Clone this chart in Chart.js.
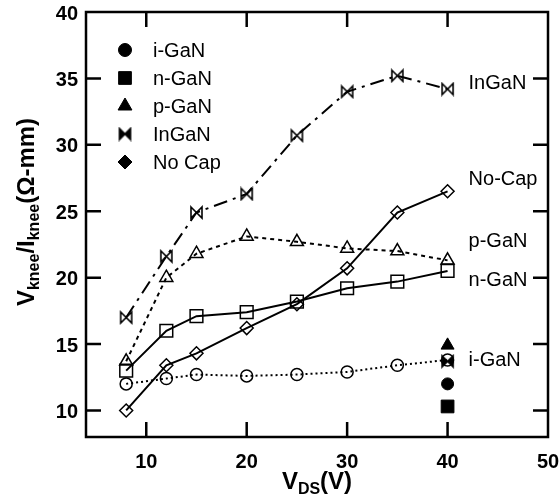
<!DOCTYPE html>
<html>
<head>
<meta charset="utf-8">
<title>Knee resistance vs drain bias</title>
<script src="https://cdn.jsdelivr.net/npm/chart.js@4.4.0/dist/chart.umd.min.js"></script>
<style>
  html, body { margin: 0; padding: 0; background: #fff; }
  #wrap { width: 560px; height: 502px; }
</style>
</head>
<body>
<div id="wrap"><canvas id="chart"></canvas></div>
<script>
// Drain bias sweep (V)
const vds = [8, 12, 15, 20, 25, 30, 35, 40];

// Vknee/Iknee (ohm-mm) per cap layer
const iGaN  = [12.0, 12.4, 12.7, 12.6, 12.7, 12.9, 13.4, 13.8];
const nGaN  = [13.0, 16.0, 17.1, 17.4, 18.2, 19.2, 19.7, 20.5];
const pGaN  = [13.7, 20.0, 21.8, 23.1, 22.7, 22.2, 22.0, 21.3];
const inGaN = [17.0, 21.6, 24.9, 26.3, 30.7, 34.0, 35.2, 34.2];
const noCap = [10.0, 13.4, 14.3, 16.2, 18.0, 20.7, 24.9, 26.5];

// lone filled points at 40 V: triangle, bowtie, circle, square
const loneVds = [40, 40, 40, 40];
const loneVals = [14.9, 13.7, 12.0, 10.3];

const legendNames = ['i-GaN', 'n-GaN', 'p-GaN', 'InGaN', 'No Cap'];
const endNames = ['InGaN', 'No-Cap', 'p-GaN', 'n-GaN', 'i-GaN'];
const endLevels = [34.6, 27.4, 22.75, 19.75, 13.75];

const xTicks = [10, 20, 30, 40, 50];
const yTicks = [10, 15, 20, 25, 30, 35, 40];

const FONT = '"Liberation Sans", Arial, sans-serif';

// hourglass-on-its-side marker
function bowtie(size, filled) {
  const c = document.createElement('canvas');
  c.width = c.height = size + 4;
  const g = c.getContext('2d');
  const m = 2, s = size;
  g.beginPath();
  g.moveTo(m, m);
  g.lineTo(m + s, m + s);
  g.lineTo(m + s, m);
  g.lineTo(m, m + s);
  g.closePath();
  g.lineJoin = 'miter';
  if (filled) {
    g.fillStyle = '#000';
    g.fill();
  }
  g.strokeStyle = '#000';
  g.lineWidth = 1.6;
  g.stroke();
  return c;
}
const bowOpen = bowtie(11, false);
const bowFull = bowtie(11, true);

function pts(ys) {
  return ys.map((y, i) => ({ x: vds[i], y: y }));
}

function openSeries(label, ys, style, radius, dash) {
  return {
    label: label,
    data: pts(ys),
    showLine: true,
    borderColor: '#000',
    borderWidth: 2,
    borderDash: dash,
    backgroundColor: 'rgba(0,0,0,0)',
    pointStyle: style,
    pointRadius: radius,
    pointBorderWidth: 1.5,
    pointBorderColor: '#000',
    pointBackgroundColor: 'rgba(0,0,0,0)',
    tension: 0
  };
}

function loneSeries(i, style, radius) {
  return {
    label: 'lone' + i,
    data: [{ x: loneVds[i], y: loneVals[i] }],
    showLine: false,
    pointStyle: style,
    pointRadius: radius,
    pointBorderWidth: 1,
    pointBorderColor: '#000',
    pointBackgroundColor: '#000'
  };
}

const datasets = [
  openSeries('i-GaN', iGaN, 'circle', 6, [2, 3]),
  openSeries('n-GaN', nGaN, 'rect', 9, []),
  openSeries('p-GaN', pGaN, 'triangle', 7.5, [4, 4]),
  openSeries('InGaN', inGaN, bowOpen, 7, [14, 6, 3, 6]),
  openSeries('No Cap', noCap, 'rectRot', 6.5, []),
  loneSeries(0, 'triangle', 7.5),
  loneSeries(1, bowFull, 7),
  loneSeries(2, 'circle', 6),
  loneSeries(3, 'rect', 9)
];

// text with subscript runs, centred on x
function subText(ctx, parts, x, y, big, small) {
  let w = 0;
  parts.forEach(p => {
    ctx.font = 'bold ' + (p[1] ? small : big) + 'px ' + FONT;
    w += ctx.measureText(p[0]).width;
  });
  let cx = x - w / 2;
  parts.forEach(p => {
    ctx.font = 'bold ' + (p[1] ? small : big) + 'px ' + FONT;
    ctx.fillText(p[0], cx, p[1] ? y + 5 : y);
    cx += ctx.measureText(p[0]).width;
  });
}

const framePlugin = {
  id: 'frame',
  afterDatasetsDraw(chart) {
    const { ctx, chartArea: a, scales } = chart;
    const tl = 15;
    ctx.save();
    ctx.strokeStyle = '#000';
    ctx.lineWidth = 2.5;
    ctx.strokeRect(a.left, a.top, a.right - a.left, a.bottom - a.top);
    ctx.beginPath();
    xTicks.forEach(v => {
      const px = scales.x.getPixelForValue(v);
      if (px >= a.right - 1) return;
      ctx.moveTo(px, a.bottom); ctx.lineTo(px, a.bottom - tl);
      ctx.moveTo(px, a.top); ctx.lineTo(px, a.top + tl);
    });
    yTicks.forEach(v => {
      const py = scales.y.getPixelForValue(v);
      if (py <= a.top + 1) return;
      ctx.moveTo(a.left, py); ctx.lineTo(a.left + tl, py);
      ctx.moveTo(a.right, py); ctx.lineTo(a.right - tl, py);
    });
    ctx.stroke();

    // tick numbers
    ctx.fillStyle = '#000';
    ctx.font = 'bold 20px ' + FONT;
    ctx.textBaseline = 'middle';
    ctx.textAlign = 'center';
    xTicks.forEach(v => ctx.fillText(String(v), scales.x.getPixelForValue(v), a.bottom + 25));
    ctx.textAlign = 'right';
    yTicks.forEach(v => ctx.fillText(String(v), a.left - 8, scales.y.getPixelForValue(v) + 2));

    // legend block, upper left
    const lx = 125, ly0 = 50, step = 28;
    const markers = [
      { pointStyle: 'circle', radius: 6.5 },
      { pointStyle: 'rect', radius: 9 },
      { pointStyle: 'triangle', radius: 8 },
      { pointStyle: bowFull, radius: 7 },
      { pointStyle: 'rectRot', radius: 7 }
    ];
    ctx.lineWidth = 1;
    markers.forEach((m, i) => {
      Chart.helpers.drawPoint(ctx, { pointStyle: m.pointStyle, radius: m.radius, rotation: 0, borderWidth: 1 }, lx, ly0 + i * step);
    });
    ctx.font = '20px ' + FONT;
    ctx.textAlign = 'left';
    legendNames.forEach((n, i) => ctx.fillText(n, lx + 28, ly0 + i * step + 1));

    // curve names to the right of the last points
    const ex = scales.x.getPixelForValue(40) + 21;
    endNames.forEach((n, i) => ctx.fillText(n, ex, scales.y.getPixelForValue(endLevels[i])));

    // axis titles
    ctx.textBaseline = 'alphabetic';
    subText(ctx, [['V', 0], ['DS', 1], ['(V)', 0]], (a.left + a.right) / 2, 489, 24, 16);
    ctx.translate(34, 212);
    ctx.rotate(-Math.PI / 2);
    subText(ctx, [['V', 0], ['knee', 1], ['/I', 0], ['knee', 1], ['(\u03A9-mm)', 0]], 0, 0, 24, 16);
    ctx.restore();
  }
};

new Chart(document.getElementById('chart'), {
  type: 'scatter',
  data: { datasets: datasets },
  options: {
    responsive: true,
    maintainAspectRatio: false,
    animation: false,
    layout: { padding: { top: 12, right: 12, left: 0, bottom: 0 } },
    plugins: { legend: { display: false }, tooltip: { enabled: false } },
    scales: {
      x: {
        type: 'linear',
        min: 4,
        max: 50,
        afterBuildTicks: s => { s.ticks = xTicks.map(v => ({ value: v })); },
        afterFit: s => { s.height = 65; },
        grid: { display: false, drawTicks: false },
        border: { display: false },
        ticks: { display: false }
      },
      y: {
        type: 'linear',
        min: 8,
        max: 40,
        afterBuildTicks: s => { s.ticks = yTicks.map(v => ({ value: v })); },
        afterFit: s => { s.width = 86; },
        grid: { display: false, drawTicks: false },
        border: { display: false },
        ticks: { display: false }
      }
    }
  },
  plugins: [framePlugin]
});
</script>
</body>
</html>
